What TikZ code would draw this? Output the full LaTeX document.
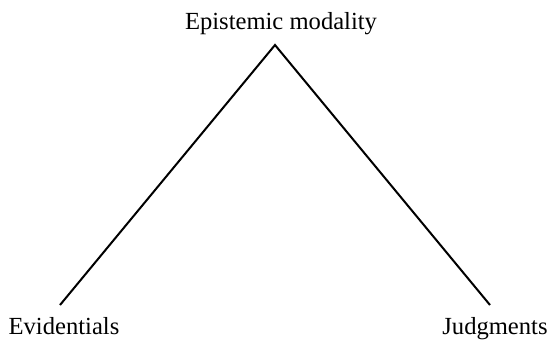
\documentclass[tikz,border=0pt]{standalone}
\usepackage{fontspec}
\setmainfont{Liberation Serif}
\usetikzlibrary{positioning}

\begin{document}
\begin{tikzpicture}[x=0.5pt, y=-0.5pt,
    label text/.style={inner sep=0pt, anchor=base, font=\fontsize{12.3pt}{14pt}\selectfont},
    branch/.style={line width=1pt}]
  \useasboundingbox (0,0) rectangle (551,339);
  % labels
  \node[label text] (epi) at (281,29) {Epistemic modality};
  \node[label text] (evid) at (64,334) {Evidentials};
  \node[label text] (judg) at (495,334) {Judgments};
  % line ends
  \coordinate (apex) at (275,45);
  \coordinate (evidend) at (60,305);
  \coordinate (judgend) at (490,305);
  \draw[branch] (evidend) -- (apex) -- (judgend);
\end{tikzpicture}
\end{document}
